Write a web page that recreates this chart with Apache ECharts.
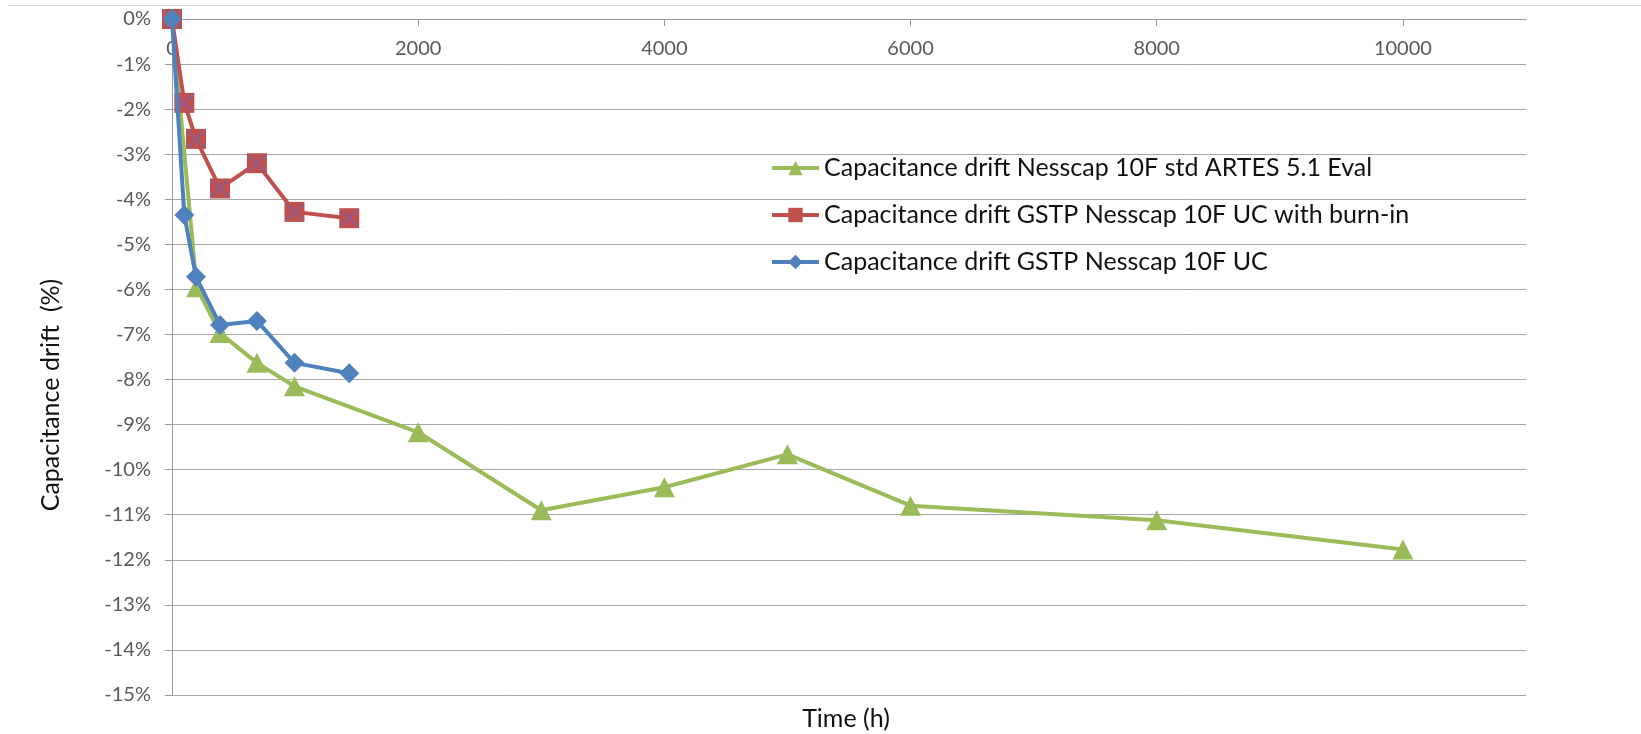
<!DOCTYPE html>
<html>
<head>
<meta charset="utf-8">
<title>Capacitance drift</title>
<script src="https://cdn.jsdelivr.net/npm/echarts@6/dist/echarts.min.js"></script>
<style>
  html, body { margin: 0; padding: 0; background: #fff; }
  #main { width: 1641px; height: 734px; }
</style>
</head>
<body>
<div id="main"></div>
<script>
// values (time in hours, drift in %)
const greenName = 'Capacitance drift Nesscap 10F std ARTES 5.1 Eval';
const greenTime = [0, 200, 390, 690, 995, 2000, 3000, 4000, 5000, 6000, 8000, 10000];
const greenDrift = [0, -5.95, -6.97, -7.63, -8.15, -9.17, -10.9, -10.39, -9.66, -10.8, -11.12, -11.77];

const redName = 'Capacitance drift GSTP Nesscap 10F UC with burn-in';
const redTime = [0, 100, 195, 390, 690, 995, 1440];
const redDrift = [0, -1.86, -2.66, -3.76, -3.2, -4.28, -4.42];

const blueName = 'Capacitance drift GSTP Nesscap 10F UC';
const blueTime = [0, 100, 195, 390, 690, 995, 1440];
const blueDrift = [0, -4.35, -5.72, -6.79, -6.7, -7.63, -7.86];

const xTicks = [0, 2000, 4000, 6000, 8000, 10000];

const pairs = (xs, ys) => xs.map((x, i) => [x, ys[i]]);

const font = 'Lato';
const axisGrey = '#9a9a9a';
// X drawn over the red squares (Excel "square with x" marker)
const crossPath = 'path://M0,0 L8,0 L50,42 L92,0 L100,0 L100,8 L58,50 L100,92 L100,100 L92,100 L50,58 L8,100 L0,100 L0,92 L42,50 L0,8 Z';

const chart = echarts.init(document.getElementById('main'));

chart.setOption({
  animation: false,
  backgroundColor: '#fff',
  grid: {
    left: 172,
    right: 115,
    top: 19,
    bottom: 39,
    outerBoundsMode: 'none'
  },
  legend: {
    data: [greenName, redName, blueName],
    orient: 'vertical',
    left: 765,
    top: 149,
    itemWidth: 47,
    itemHeight: 18,
    itemGap: 19,
    lineStyle: { width: 4 },
    textStyle: { fontFamily: font, fontSize: 25, color: '#111', lineHeight: 28 }
  },
  xAxis: {
    type: 'value',
    position: 'top',
    min: 0,
    max: 11000,
    interval: 2000,
    axisLine: { show: true, onZero: false, lineStyle: { color: axisGrey, width: 1 } },
    axisTick: { show: true, inside: true, length: 7, customValues: xTicks, lineStyle: { color: axisGrey } },
    axisLabel: {
      inside: true,
      margin: 20,
      customValues: xTicks,
      formatter: (v) => String(v),
      fontFamily: font,
      fontSize: 20,
      color: '#595959'
    },
    splitLine: { show: false }
  },
  yAxis: {
    type: 'value',
    min: -15,
    max: 0,
    interval: 1,
    axisLine: { show: true, onZero: false, lineStyle: { color: axisGrey, width: 1 } },
    axisTick: { show: true, length: 7, lineStyle: { color: axisGrey } },
    axisLabel: {
      margin: 21,
      formatter: '{value}%',
      fontFamily: font,
      fontSize: 20,
      color: '#595959'
    },
    splitLine: { show: true, lineStyle: { color: '#a6a6a6', width: 1 } }
  },
  graphic: [
    {
      type: 'line',
      shape: { x1: 8, y1: 5.5, x2: 1641, y2: 5.5 },
      style: { stroke: '#d9d9d9', lineWidth: 1 }
    },
    {
      type: 'text',
      x: 51,
      y: 395,
      rotation: Math.PI / 2,
      style: {
        text: 'Capacitance drift  (%)',
        fontFamily: font,
        fontSize: 25,
        fill: '#111',
        textAlign: 'center',
        textVerticalAlign: 'middle'
      }
    },
    {
      type: 'text',
      x: 846,
      y: 719,
      style: {
        text: 'Time (h)',
        fontFamily: font,
        fontSize: 25,
        fill: '#111',
        textAlign: 'center',
        textVerticalAlign: 'middle'
      }
    }
  ],
  series: [
    {
      name: greenName,
      type: 'line',
      data: pairs(greenTime, greenDrift),
      symbol: 'triangle',
      symbolSize: [21, 20],
      showAllSymbol: true,
      color: '#9bbb59',
      lineStyle: { width: 4, color: '#9bbb59' },
      itemStyle: { color: '#9bbb59' }
    },
    {
      name: redName,
      type: 'line',
      data: pairs(redTime, redDrift),
      symbol: 'rect',
      symbolSize: 20,
      showAllSymbol: true,
      color: '#c0504d',
      lineStyle: { width: 4, color: '#c0504d' },
      itemStyle: { color: '#c0504d' }
    },
    {
      name: redName + ' x',
      type: 'scatter',
      data: pairs(redTime, redDrift),
      symbol: crossPath,
      symbolSize: 17,
      silent: true,
      z: 3,
      itemStyle: { color: '#7f62a6' }
    },
    {
      name: blueName,
      type: 'line',
      data: pairs(blueTime, blueDrift),
      symbol: 'diamond',
      symbolSize: 20,
      showAllSymbol: true,
      color: '#4f81bd',
      z: 4,
      lineStyle: { width: 4, color: '#4f81bd' },
      itemStyle: { color: '#4f81bd' }
    }
  ]
});
</script>
</body>
</html>
